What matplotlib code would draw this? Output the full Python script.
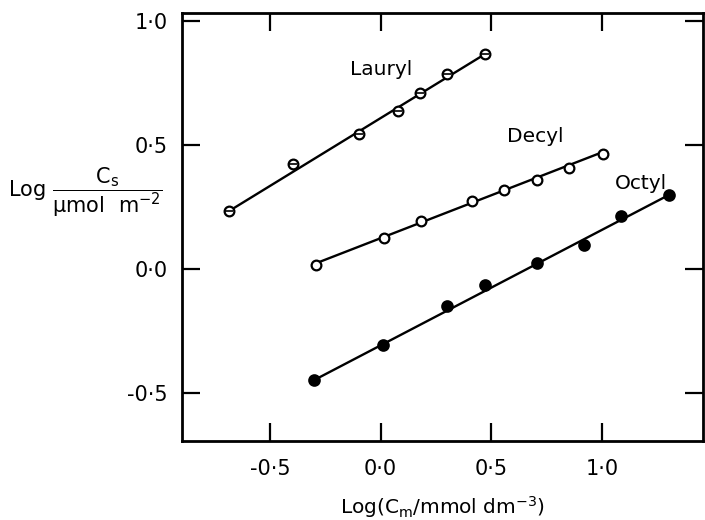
import numpy as np
import matplotlib
matplotlib.use("Agg")
import matplotlib.pyplot as plt

# data: log(Cm / mmol dm-3) vs log(Cs / umol m-2)
lauryl_x = [-0.686, -0.397, -0.096, 0.079, 0.176, 0.300, 0.471]
lauryl_y = [0.233, 0.422, 0.543, 0.638, 0.711, 0.786, 0.866]
decyl_x = [-0.292, 0.014, 0.182, 0.414, 0.556, 0.707, 0.853, 1.006]
decyl_y = [0.017, 0.126, 0.194, 0.275, 0.319, 0.358, 0.407, 0.462]
octyl_x = [-0.302, 0.010, 0.300, 0.470, 0.708, 0.917, 1.087, 1.303]
octyl_y = [-0.449, -0.308, -0.148, -0.066, 0.024, 0.095, 0.212, 0.297]

# straight lines drawn through each series
lauryl_fit_x = [-0.686, 0.471]
lauryl_fit_y = [0.233, 0.866]
decyl_fit_x = [-0.280, 1.000]
decyl_fit_y = [0.027, 0.470]
octyl_fit_x = [-0.300, 1.300]
octyl_fit_y = [-0.448, 0.297]

series_names = ["Lauryl", "Decyl", "Octyl"]
label_x = [0.00, 0.70, 1.176]
label_y = [0.806, 0.532, 0.345]

tick_vals = [-0.5, 0.0, 0.5, 1.0]
tick_text = ["-0\u00b75", "0\u00b70", "0\u00b75", "1\u00b70"]

plt.rcParams["font.family"] = ["DejaVu Sans"]
plt.rcParams["mathtext.fontset"] = "dejavusans"

fig = plt.figure(figsize=(7.05, 5.2), dpi=100)
ax = fig.add_axes([182/705, 79/520, 521/705, 428/520])

lw = 1.7
ax.plot(lauryl_fit_x, lauryl_fit_y, "k-", lw=lw)
ax.plot(decyl_fit_x, decyl_fit_y, "k-", lw=lw)
ax.plot(octyl_fit_x, octyl_fit_y, "k-", lw=lw)

ax.plot(lauryl_x, lauryl_y, "o", ms=7, mfc="white", mec="k", mew=1.6, ls="none", zorder=3)
ax.plot(lauryl_x, lauryl_y, "_", ms=6, mec="k", mew=1.2, ls="none", zorder=4)
ax.plot(decyl_x, decyl_y, "o", ms=7, mfc="white", mec="k", mew=1.6, ls="none", zorder=3)
ax.plot(octyl_x, octyl_y, "o", ms=7.5, mfc="k", mec="k", mew=1.6, ls="none", zorder=3)

for name, tx, ty in zip(series_names, label_x, label_y):
    ax.text(tx, ty, name, fontsize=14.5, ha="center", va="center")

ax.set_xlim(-0.898, 1.457)
ax.set_ylim(-0.694, 1.032)
ax.set_xticks(tick_vals)
ax.set_xticklabels(tick_text)
ax.set_yticks(tick_vals)
ax.set_yticklabels(tick_text)
ax.tick_params(direction="in", length=13, width=1.6, labelsize=15,
               top=True, right=True)
ax.tick_params(axis="x", pad=13)
ax.tick_params(axis="y", pad=10)
for sp in ax.spines.values():
    sp.set_linewidth(2.0)

ax.set_xlabel(r"Log(C$_\mathregular{m}$/mmol dm$^{-3}$)", fontsize=14.5, labelpad=11)
fig.text(8/705, 1 - 192/520,
         r"Log $\dfrac{\mathregular{C_s}}{\mathregular{\mu mol\ \ m^{-2}}}$",
         fontsize=15, ha="left", va="center")

fig.savefig("out.png", dpi=100)
